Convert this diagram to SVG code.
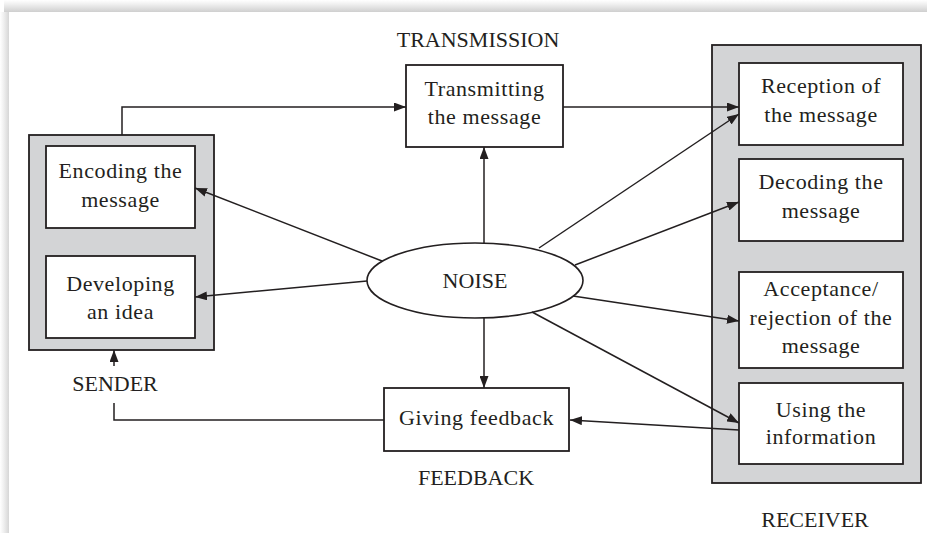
<svg xmlns="http://www.w3.org/2000/svg" width="927" height="533" viewBox="0 0 927 533">
<defs>
<linearGradient id="shTop" x1="0" y1="0" x2="0" y2="1">
<stop offset="0" stop-color="#ffffff"/>
<stop offset="0.3" stop-color="#f2f2f2"/>
<stop offset="1" stop-color="#cfcfcf"/>
</linearGradient>
<linearGradient id="shLeft" x1="0" y1="0" x2="1" y2="0">
<stop offset="0" stop-color="#ffffff"/>
<stop offset="0.4" stop-color="#f0f0f0"/>
<stop offset="1" stop-color="#d6d6d6"/>
</linearGradient>
<marker id="ah" viewBox="0 0 12 9" refX="12" refY="4.5" markerWidth="12" markerHeight="9" markerUnits="userSpaceOnUse" orient="auto">
<path d="M0,0 L12,4.5 L0,9 z" fill="#231f20"/>
</marker>
<style>
.outer{fill:#d3d4d6;stroke:#231f20;stroke-width:1.8}
.box{fill:#ffffff;stroke:#231f20;stroke-width:1.8}
.t{font-family:"Liberation Serif","Times New Roman",serif;font-size:22px;fill:#231f20;text-anchor:middle;letter-spacing:0.6px}
.lbl{font-family:"Liberation Serif","Times New Roman",serif;font-size:22px;fill:#231f20;text-anchor:middle}
.c{fill:none;stroke:#231f20;stroke-width:1.5}
.ca{fill:none;stroke:#231f20;stroke-width:1.5;marker-end:url(#ah)}
</style>
</defs>
<rect x="0" y="0" width="927" height="533" fill="#ffffff"/>
<g id="page-shadow">
<rect x="4" y="0" width="923" height="12" fill="url(#shTop)"/>
<rect x="0" y="12" width="9" height="521" fill="url(#shLeft)"/>
</g>

<g id="sender">
<rect class="outer" x="29" y="135" width="185" height="215"/>
<text class="lbl" x="115" y="391">SENDER</text>
</g>
<g id="encoding">
<rect class="box" x="46" y="146" width="149" height="82"/>
<text class="t" x="120.5" y="178">Encoding the</text>
<text class="t" x="120.5" y="207">message</text>
</g>
<g id="developing">
<rect class="box" x="46" y="256" width="149" height="82"/>
<text class="t" x="120.5" y="291">Developing</text>
<text class="t" x="120.5" y="319">an idea</text>
</g>

<g id="transmitting">
<text class="lbl" x="478" y="47">TRANSMISSION</text>
<rect class="box" x="406" y="65" width="157" height="82"/>
<text class="t" x="484.5" y="96">Transmitting</text>
<text class="t" x="484.5" y="124">the message</text>
</g>

<g id="noise">
<ellipse cx="475" cy="280.5" rx="108" ry="37.5" fill="#ffffff" stroke="#231f20" stroke-width="1.6"/>
<text class="lbl" x="475" y="288">NOISE</text>
</g>

<g id="feedback">
<rect class="box" x="384" y="388" width="185" height="63"/>
<text class="t" x="476.5" y="425">Giving feedback</text>
<text class="lbl" x="476" y="485">FEEDBACK</text>
</g>

<g id="receiver">
<rect class="outer" x="712" y="45" width="209" height="438"/>
<text class="lbl" x="815" y="527">RECEIVER</text>
</g>
<g id="reception">
<rect class="box" x="739" y="63" width="164" height="82"/>
<text class="t" x="821" y="93">Reception of</text>
<text class="t" x="821" y="122">the message</text>
</g>
<g id="decoding">
<rect class="box" x="739" y="159" width="164" height="82"/>
<text class="t" x="821" y="189">Decoding the</text>
<text class="t" x="821" y="218">message</text>
</g>
<g id="acceptance">
<rect class="box" x="739" y="272" width="164" height="96"/>
<text class="t" x="821" y="296">Acceptance/</text>
<text class="t" x="821" y="325">rejection of the</text>
<text class="t" x="821" y="353">message</text>
</g>
<g id="using">
<rect class="box" x="739" y="383" width="164" height="81"/>
<text class="t" x="821" y="417">Using the</text>
<text class="t" x="821" y="444">information</text>
</g>

<g id="connectors">
<polyline class="ca" points="122,135 122,107 406,107"/>
<line class="ca" x1="563" y1="107" x2="739" y2="107"/>
<line class="ca" x1="484" y1="243" x2="484" y2="147"/>
<line class="ca" x1="484" y1="318" x2="484" y2="388"/>
<line class="ca" x1="382" y1="261" x2="195" y2="188"/>
<line class="ca" x1="367" y1="281" x2="195" y2="297"/>
<line class="ca" x1="539" y1="248" x2="739" y2="114"/>
<line class="ca" x1="575" y1="265" x2="739" y2="202"/>
<line class="ca" x1="573" y1="296" x2="739" y2="321"/>
<line class="ca" x1="532" y1="312" x2="739" y2="423"/>
<line class="ca" x1="739" y1="430" x2="570" y2="420"/>
<polyline class="c" points="384,420 114,420 114,403"/>
<line class="ca" x1="114" y1="366" x2="114" y2="350"/>
</g>
</svg>
